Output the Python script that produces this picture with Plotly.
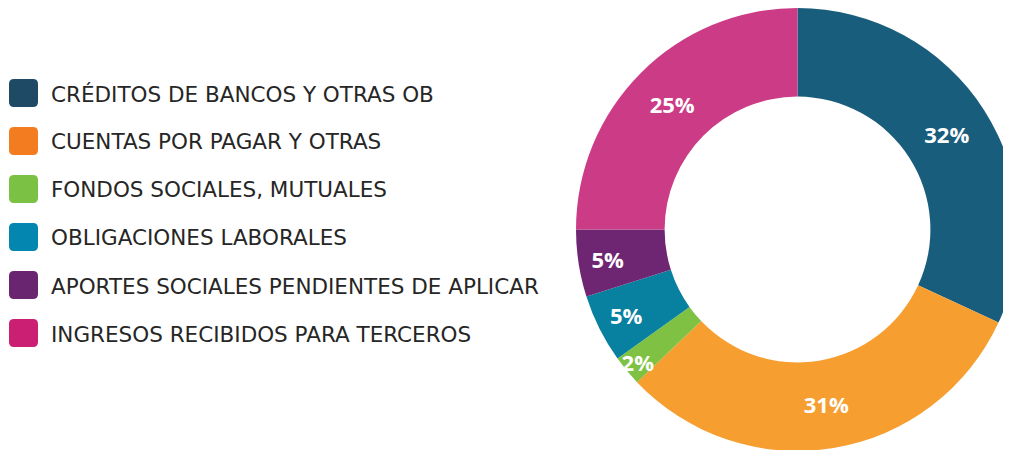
import plotly.graph_objects as go

labels = [
    "CRÉDITOS DE BANCOS Y OTRAS OB",
    "CUENTAS POR PAGAR Y OTRAS",
    "FONDOS SOCIALES, MUTUALES",
    "OBLIGACIONES LABORALES",
    "APORTES SOCIALES PENDIENTES DE APLICAR",
    "INGRESOS RECIBIDOS PARA TERCEROS",
]
values = [31.9, 31.0, 2.2, 5.0, 4.9, 25.0]
slice_colors = ["#195d7c", "#f69e30", "#7fc243", "#08809f", "#6f2672", "#cc3c86"]
legend_colors = ["#1e4a66", "#f47c20", "#7bc143", "#0386b0", "#6a2570", "#cb1f73"]

W, H = 1011, 450
OFF = 8  # page body margin offset

fig = go.Figure()
fig.add_trace(go.Pie(
    labels=labels,
    values=values,
    sort=False,
    direction="clockwise",
    rotation=0,
    hole=0.6,
    marker=dict(colors=slice_colors, line=dict(width=0)),
    texttemplate="%{percent:.0%}",
    textposition="inside",
    insidetextorientation="horizontal",
    insidetextfont=dict(family="Open Sans", size=22, color="white", weight="bold"),
    domain=dict(x=[568 / W, 1.0], y=[7 / H, 1.0]),
    showlegend=False,
    hoverinfo="label+percent",
))

# custom legend (rounded squares + labels), pixel coords in page space
def rrect(x0, y0, x1, y1, r):
    def p(x, y):
        return f"{(x - OFF) / W:.5f},{1 - (y - OFF) / H:.5f}"
    return (f"M {p(x0 + r, y0)} L {p(x1 - r, y0)} Q {p(x1, y0)} {p(x1, y0 + r)} "
            f"L {p(x1, y1 - r)} Q {p(x1, y1)} {p(x1 - r, y1)} "
            f"L {p(x0 + r, y1)} Q {p(x0, y1)} {p(x0, y1 - r)} "
            f"L {p(x0, y0 + r)} Q {p(x0, y0)} {p(x0 + r, y0)} Z")

row0, step = 93, 48
for i, (lab, col) in enumerate(zip(labels, legend_colors)):
    cy = row0 + i * step
    fig.add_shape(type="path", xref="paper", yref="paper",
                  path=rrect(9, cy - 14, 38, cy + 14, 5),
                  fillcolor=col, line=dict(width=0))
    fig.add_annotation(x=(49 - OFF) / W, y=1 - (cy + 1 - OFF) / H, xref="paper", yref="paper",
                       text=lab, showarrow=False, xanchor="left", yanchor="middle",
                       font=dict(family="DejaVu Sans", size=21.5, color="#262626"))

fig.update_layout(
    width=W, height=H,
    margin=dict(l=0, r=0, t=0, b=0),
    paper_bgcolor="white", plot_bgcolor="white",
    uniformtext=dict(minsize=22, mode="show"),
)

fig.write_html("out.html")
